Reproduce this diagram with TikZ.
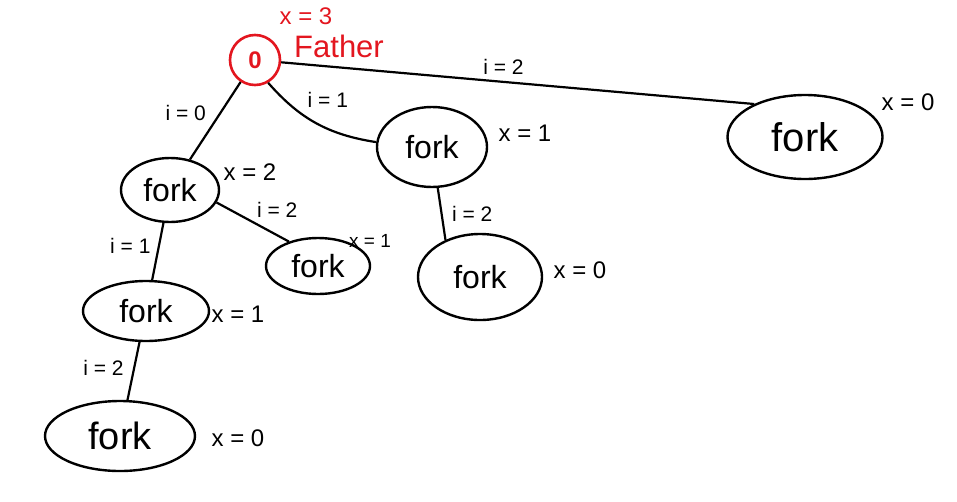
\documentclass[tikz,border=0pt]{standalone}
\usepackage{fontspec}
\setmainfont{Liberation Sans}
\usetikzlibrary{shapes.geometric}
\definecolor{pen}{HTML}{E3161F}
\tikzset{forkcall/.style={draw,ellipse,line width=2.4pt,inner sep=0pt,font=\fontsize{32}{34}\selectfont},root/.style={draw=pen,circle,line width=2.6pt,minimum size=50pt,inner sep=0pt,text=pen,font=\bfseries\fontsize{24}{26}\selectfont},branch/.style={line width=2.2pt},tag/.style={font=\fontsize{24}{26}\selectfont},itag/.style={font=\fontsize{21}{23}\selectfont},redtag/.style={tag,text=pen}}

\begin{document}
\begin{tikzpicture}[x=1pt,y=-1pt]
\useasboundingbox (0,0) rectangle (957,501);
\node[root] (r) at (255,60) {0};
\node[redtag] (rx) at (306,16) {x = 3};
\node[redtag,font=\fontsize{31}{33}\selectfont] (rf) at (339,46) {Father};
\node[forkcall,minimum width=98pt,minimum height=64pt] (a) at (170,190) {fork};
\node[forkcall,minimum width=110pt,minimum height=80pt] (b) at (432,147) {fork};
\node[forkcall,minimum width=155pt,minimum height=84pt,font=\fontsize{40}{42}\selectfont] (c) at (805,137) {fork};
\node[forkcall,minimum width=126pt,minimum height=60pt] (d) at (146,311) {fork};
\node[forkcall,minimum width=104pt,minimum height=56pt] (e) at (318,266) {fork};
\node[forkcall,minimum width=124pt,minimum height=86pt] (f) at (480,277) {fork};
\node[forkcall,minimum width=150pt,minimum height=70pt,font=\fontsize{38}{40}\selectfont] (g) at (120,436) {fork};
% x values
\node[tag] (ax) at (250,172) {x = 2};
\node[tag] (bx) at (525,133) {x = 1};
\node[tag] (cx) at (908,102) {x = 0};
\node[tag] (dx) at (238,314) {x = 1};
\node[tag,font=\fontsize{19}{21}\selectfont] (ex) at (370,241) {x = 1};
\node[tag] (fx) at (580,270) {x = 0};
\node[tag] (gx) at (238,438) {x = 0};
% calls
\draw[branch] (r) -- (a) node[itag,pos=.4,left=10pt] {i = 0};
\draw[branch] (r.300) to[bend right=20] node[itag,pos=.35,above right=2pt] {i = 1} (b.175);
\draw[branch] (r.355) -- (c.147) node[itag,pos=.47,above=3pt] {i = 2};
\draw[branch] (a) -- (d) node[itag,pos=.4,left=4pt] {i = 1};
\draw[branch] (a.345) -- (e.140) node[itag,midway,above right=0pt] {i = 2};
\draw[branch] (b.278) -- (f.133) node[itag,midway,right=6pt] {i = 2};
\draw[branch] (d) -- (g) node[itag,pos=.45,left=6pt] {i = 2};
\end{tikzpicture}
\end{document}
